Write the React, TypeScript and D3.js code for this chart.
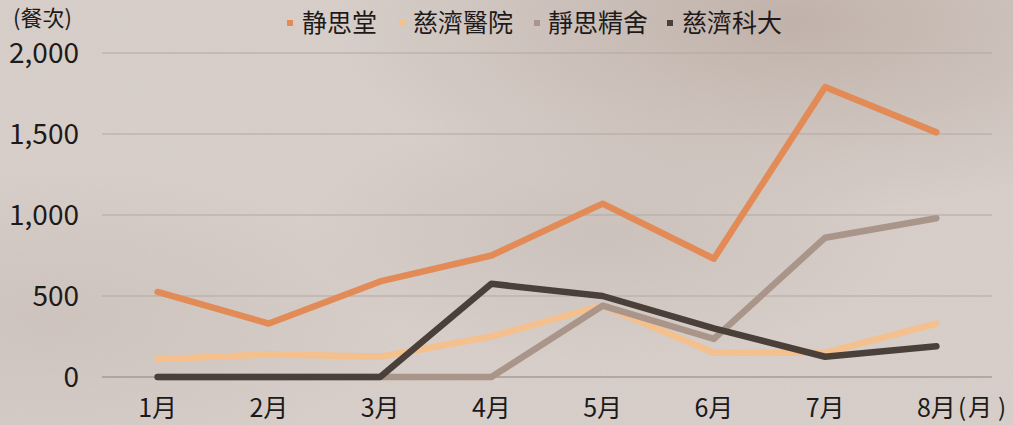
import { useMemo } from 'react';
import * as d3 from 'd3';

const MONTHS = ['1月', '2月', '3月', '4月', '5月', '6月', '7月', '8月'];
const SERIES_NAMES = ['静思堂', '慈濟醫院', '靜思精舍', '慈濟科大'];
const SERIES_COLORS = ['#E38B57', '#F3C08E', '#A99589', '#4B3F3A'];

const JING_SI_TANG = [525, 330, 590, 750, 1070, 730, 1790, 1510];
const TZU_CHI_HOSPITAL = [110, 140, 125, 250, 440, 150, 150, 330];
const JING_SI_ABODE = [0, 0, 0, 0, 440, 235, 860, 980];
const TZU_CHI_UNIV = [0, 0, 0, 575, 500, 300, 125, 190];
const SERIES_VALUES = [JING_SI_TANG, TZU_CHI_HOSPITAL, JING_SI_ABODE, TZU_CHI_UNIV];

const Y_TICKS = [0, 500, 1000, 1500, 2000];

const W = 1013;
const H = 425;
const FONT = '"Noto Sans CJK TC", "Noto Sans", sans-serif';
const INK = '#1d1a19';

export default function App() {
  const x = useMemo(() => d3.scaleBand<string>().domain(MONTHS).range([102, 992]), []);
  const y = useMemo(() => d3.scaleLinear().domain([0, 2000]).range([377, 53]), []);
  const fmt = d3.format(',');
  const cx = (m: string) => (x(m) ?? 0) + x.bandwidth() / 2;

  const line = d3.line<number>()
    .x((_, i) => cx(MONTHS[i]))
    .y((v) => y(v));

  // legend marker / label x positions
  const legendMarkX = [290, 402, 537, 670];
  const legendTextX = [302, 413, 548, 682];

  return (
    <div style={{ position: 'fixed', left: 0, top: 0, width: W, height: H }}>
      <svg width={W} height={H} style={{ display: 'block' }} fontFamily={FONT}>
        <defs>
          <radialGradient id="shadeTR" cx="0.78" cy="0.05" r="0.45">
            <stop offset="0" stopColor="#bfb0a8" stopOpacity="0.9" />
            <stop offset="1" stopColor="#bfb0a8" stopOpacity="0" />
          </radialGradient>
          <radialGradient id="shadeML" cx="0.05" cy="0.75" r="0.35">
            <stop offset="0" stopColor="#c9bdb7" stopOpacity="0.6" />
            <stop offset="1" stopColor="#c9bdb7" stopOpacity="0" />
          </radialGradient>
          <radialGradient id="shadeMR" cx="0.6" cy="0.55" r="0.3">
            <stop offset="0" stopColor="#c4b8b2" stopOpacity="0.55" />
            <stop offset="1" stopColor="#c4b8b2" stopOpacity="0" />
          </radialGradient>
          <filter id="weave" x="0" y="0" width="100%" height="100%">
            <feTurbulence type="fractalNoise" baseFrequency="0.9 0.7" numOctaves="2" seed="3" />
            <feColorMatrix type="matrix" values="0 0 0 0 0.45  0 0 0 0 0.4  0 0 0 0 0.37  0 0 0 0.35 0" />
          </filter>
        </defs>
        <rect width={W} height={H} fill="#d9d0cb" />
        <rect width={W} height={H} fill="url(#shadeTR)" />
        <rect width={W} height={H} fill="url(#shadeML)" />
        <rect width={W} height={H} fill="url(#shadeMR)" />
        <rect width={W} height={H} filter="url(#weave)" opacity={0.35} />

        {/* gridlines */}
        {Y_TICKS.map((t) => (
          <line key={t} x1={102} x2={992} y1={y(t)} y2={y(t)}
            stroke={t === 0 ? '#8f827c' : '#b3a7a1'} strokeWidth={1} />
        ))}

        {/* y tick labels */}
        {Y_TICKS.map((t) => (
          <text key={t} x={79} y={y(t)} dy="0.36em" textAnchor="end" fontSize={28} fill={INK}>
            {fmt(t)}
          </text>
        ))}

        <text x={13} y={26} fontSize={22} fill={INK}>(餐次)</text>

        {/* x tick labels */}
        {MONTHS.map((m) => (
          <text key={m} x={cx(m)} y={417} textAnchor="middle" fontSize={25} fill={INK}>
            {m}
          </text>
        ))}
        <text x={958} y={416} fontSize={24} fill={INK}>(</text>
        <text x={968} y={416} fontSize={24} fill={INK}>月</text>
        <text x={998} y={416} fontSize={24} fill={INK}>)</text>

        {/* lines */}
        {SERIES_VALUES.map((vals, i) => (
          <path key={SERIES_NAMES[i]} d={line(vals) ?? ''} fill="none"
            stroke={SERIES_COLORS[i]} strokeWidth={6.5} strokeLinejoin="round" strokeLinecap="round" />
        ))}

        {/* legend */}
        {SERIES_NAMES.map((n, i) => (
          <g key={n}>
            <rect x={legendMarkX[i] - 3} y={20} width={6} height={6} fill={SERIES_COLORS[i]} />
            <text x={legendTextX[i]} y={23} dy="0.36em" fontSize={25} fill={INK}>{n}</text>
          </g>
        ))}
      </svg>
    </div>
  );
}
